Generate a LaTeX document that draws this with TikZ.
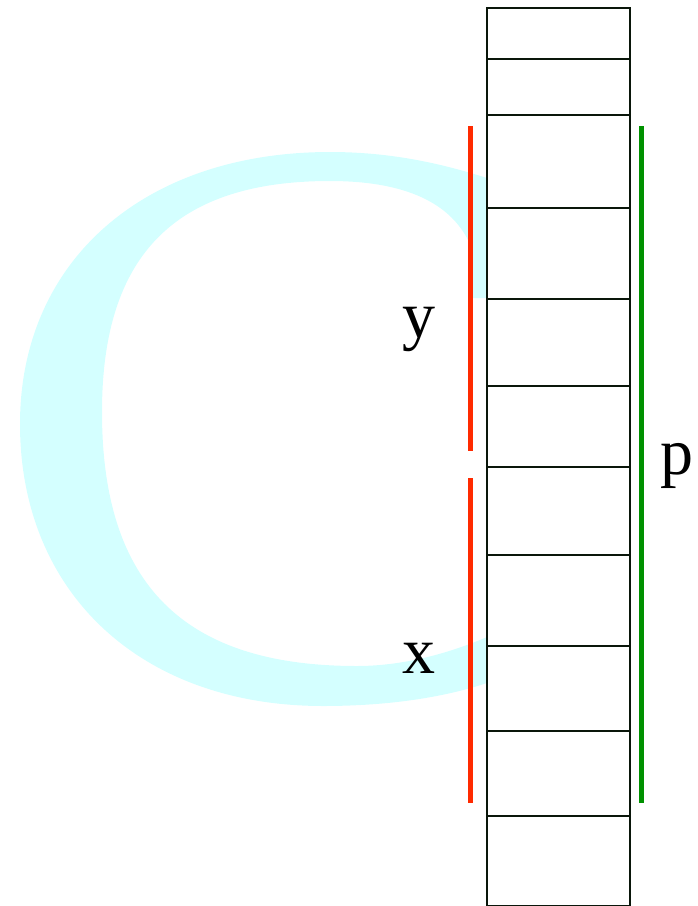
\documentclass[tikz,border=0pt]{standalone}
\usepackage{fontspec}
\setmainfont{Liberation Serif}
\definecolor{ccyan}{HTML}{D4FFFF}
\definecolor{cred}{HTML}{FF2A00}
\definecolor{cgreen}{HTML}{009100}
\definecolor{cdark}{HTML}{0A160A}
\begin{document}
\begin{tikzpicture}[x=1pt,y=-1pt,
  cellbox/.style={draw=cdark,fill=white,line width=2.6pt},
  redbar/.style={draw=cred,line width=5pt},
  greenbar/.style={draw=cgreen,line width=5pt},
  lbl/.style={inner sep=0pt,anchor=base,font=\fontsize{66}{66}\selectfont}]
\useasboundingbox (0,0) rectangle (698,906);
% big background letter C (drawn as a shape)
\fill[ccyan] (495,179) -- (487,178)
  .. controls (440,163) and (390,152) .. (330,152)
  .. controls (144,152) and (20,261) .. (20,424)
  .. controls (20,593) and (141,706) .. (323,706)
  .. controls (390,706) and (445,697) .. (487,683)
  -- (495,680) -- (495,634) -- (487,637)
  .. controls (445,655) and (400,666) .. (357,666)
  .. controls (184,666) and (102,585) .. (102,412)
  .. controls (102,255) and (175,181) .. (330,181)
  .. controls (390,181) and (445,195) .. (468,240)
  -- (468,298) -- (495,298) -- cycle;
% stack of cells
\foreach \ya/\yb [count=\i] in {8/59,59/115,115/208,208/299,299/386,386/467,467/555,555/646,646/731,731/816,816/906}{
  \draw[cellbox] (487,\ya) rectangle (630,\yb);
}
% bars
\coordinate (ytop) at (470.5,126);
\coordinate (ybot) at (470.5,451);
\coordinate (xtop) at (470.5,478);
\coordinate (xbot) at (470.5,803);
\coordinate (ptop) at (641.5,126);
\coordinate (pbot) at (641.5,803);
\draw[redbar] (ytop) -- (ybot);
\draw[redbar] (xtop) -- (xbot);
\draw[greenbar] (ptop) -- (pbot);
% labels
\node[lbl] (ly) at (419,337) {y};
\node[lbl] (lx) at (418.5,673) {x};
\node[lbl] (lp) at (677,474) {p};
\end{tikzpicture}
\end{document}
